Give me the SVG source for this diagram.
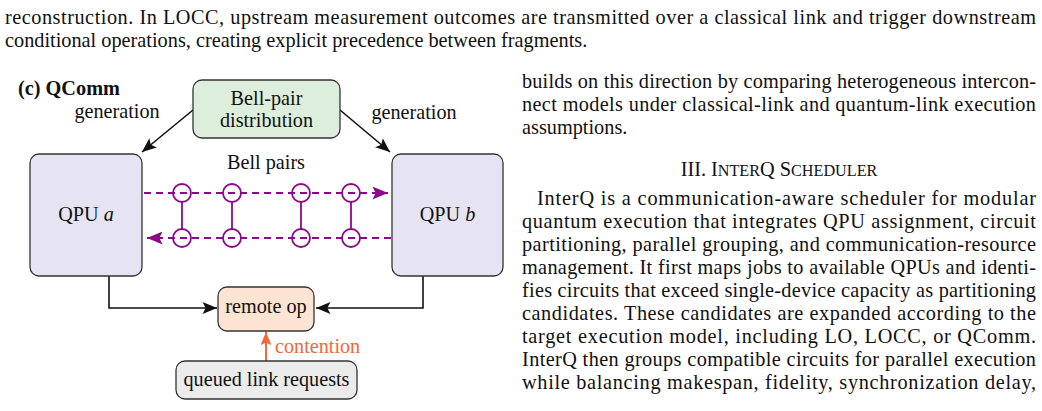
<svg xmlns="http://www.w3.org/2000/svg" width="1042" height="411" viewBox="0 0 1042 411">
<defs>
<style>
.t{font-family:"Liberation Serif","Times New Roman",serif;font-size:20.3px;fill:#111}
.d{font-family:"Liberation Serif","Times New Roman",serif;font-size:20.2px;fill:#111}
.box{stroke:#333;stroke-width:1.3}
.conn{fill:none;stroke:#111;stroke-width:1.6}
.bp{fill:none;stroke:#8b0a8b;stroke-width:1.8}
.dash{fill:none;stroke:#8b0a8b;stroke-width:1.8;stroke-dasharray:7 5}
</style>
<marker id="ah" viewBox="0 0 12 10" refX="12" refY="5" markerWidth="16" markerHeight="12" markerUnits="userSpaceOnUse" orient="auto">
<path d="M0,0 L12,5 L0,10 L2.5,5 z" fill="#111"/>
</marker>
<marker id="ap" viewBox="0 0 12 10" refX="12" refY="5" markerWidth="16" markerHeight="13" markerUnits="userSpaceOnUse" orient="auto">
<path d="M0,0 L12,5 L0,10 L2.5,5 z" fill="#8b0a8b"/>
</marker>
<marker id="ao" viewBox="0 0 12 10" refX="12" refY="5" markerWidth="14" markerHeight="11" markerUnits="userSpaceOnUse" orient="auto">
<path d="M0,0 L12,5 L0,10 L2.5,5 z" fill="#f5673a"/>
</marker>
</defs>
<rect width="1042" height="411" fill="#fff"/>

<g id="body-text">
<text class="t" x="5" y="24" textLength="1031" lengthAdjust="spacing">reconstruction. In LOCC, upstream measurement outcomes are transmitted over a classical link and trigger downstream</text>
<text class="t" x="5" y="47">conditional operations, creating explicit precedence between fragments.</text>
<text class="t" x="522" y="88" textLength="514" lengthAdjust="spacing">builds on this direction by comparing heterogeneous intercon-</text>
<text class="t" x="522" y="111" textLength="514" lengthAdjust="spacing">nect models under classical-link and quantum-link execution</text>
<text class="t" x="522" y="134">assumptions.</text>
<text class="t" x="779" y="176" text-anchor="middle">III. I<tspan font-size="16.2px">NTER</tspan>Q S<tspan font-size="16.2px">CHEDULER</tspan></text>
<text class="t" x="537" y="205" textLength="499" lengthAdjust="spacing">InterQ is a communication-aware scheduler for modular</text>
<text class="t" x="522" y="228" textLength="514" lengthAdjust="spacing">quantum execution that integrates QPU assignment, circuit</text>
<text class="t" x="522" y="251" textLength="514" lengthAdjust="spacing">partitioning, parallel grouping, and communication-resource</text>
<text class="t" x="522" y="274" textLength="514" lengthAdjust="spacing">management. It first maps jobs to available QPUs and identi-</text>
<text class="t" x="522" y="297" textLength="514" lengthAdjust="spacing">fies circuits that exceed single-device capacity as partitioning</text>
<text class="t" x="522" y="320" textLength="514" lengthAdjust="spacing">candidates. These candidates are expanded according to the</text>
<text class="t" x="522" y="343" textLength="514" lengthAdjust="spacing">target execution model, including LO, LOCC, or QComm.</text>
<text class="t" x="522" y="366" textLength="514" lengthAdjust="spacing">InterQ then groups compatible circuits for parallel execution</text>
<text class="t" x="522" y="389" textLength="514" lengthAdjust="spacing">while balancing makespan, fidelity, synchronization delay,</text>
</g>

<g id="title">
<text class="t" x="18" y="95" font-weight="bold">(c) QComm</text>
</g>

<g id="connectors">
<line class="conn" x1="193" y1="110" x2="142" y2="152" marker-end="url(#ah)"/>
<line class="conn" x1="340" y1="110" x2="390" y2="152" marker-end="url(#ah)"/>
<polyline class="conn" points="109,276 109,308 217,308" marker-end="url(#ah)"/>
<polyline class="conn" points="423,276 423,308 316,308" marker-end="url(#ah)"/>
<line x1="266" y1="361" x2="266" y2="332" stroke="#f5673a" stroke-width="2" marker-end="url(#ao)"/>
<text class="d" x="275" y="353" style="fill:#f5673a">contention</text>
<text class="d" x="117" y="118" text-anchor="middle">generation</text>
<text class="d" x="414" y="119" text-anchor="middle">generation</text>
</g>

<g id="bell-pairs">
<text class="d" x="266" y="169" text-anchor="middle">Bell pairs</text>
<line class="dash" x1="144" y1="193" x2="388" y2="193" marker-end="url(#ap)"/>
<line class="dash" x1="391" y1="238" x2="147" y2="238" marker-end="url(#ap)"/>
<g class="bp">
<circle cx="182" cy="193" r="9"/><circle cx="182" cy="238" r="9"/><line x1="182" y1="202" x2="182" y2="229"/>
<circle cx="232" cy="193" r="9"/><circle cx="232" cy="238" r="9"/><line x1="232" y1="202" x2="232" y2="229"/>
<circle cx="301" cy="193" r="9"/><circle cx="301" cy="238" r="9"/><line x1="301" y1="202" x2="301" y2="229"/>
<circle cx="351" cy="193" r="9"/><circle cx="351" cy="238" r="9"/><line x1="351" y1="202" x2="351" y2="229"/>
</g>
</g>

<g id="bell-pair-distribution">
<rect class="box" x="193" y="80" width="147" height="58" rx="9" fill="#ddeedd"/>
<text class="d" x="266.5" y="105" text-anchor="middle">Bell-pair</text>
<text class="d" x="266.5" y="127" text-anchor="middle">distribution</text>
</g>

<g id="qpu-a">
<rect class="box" x="30" y="154" width="112" height="122" rx="9" fill="#e6e4f2"/>
<text class="d" x="86" y="221" text-anchor="middle">QPU <tspan font-style="italic">a</tspan></text>
</g>

<g id="qpu-b">
<rect class="box" x="392" y="154" width="111" height="122" rx="9" fill="#e6e4f2"/>
<text class="d" x="447.5" y="221" text-anchor="middle">QPU <tspan font-style="italic">b</tspan></text>
</g>

<g id="remote-op">
<rect class="box" x="218" y="287" width="96" height="44" rx="9" fill="#fde3d1"/>
<text class="d" x="266" y="313" text-anchor="middle">remote op</text>
</g>

<g id="queued-link-requests">
<rect class="box" x="176" y="361" width="181" height="38" rx="9" fill="#ebebeb"/>
<text class="d" x="266.5" y="386" text-anchor="middle">queued link requests</text>
</g>
</svg>
